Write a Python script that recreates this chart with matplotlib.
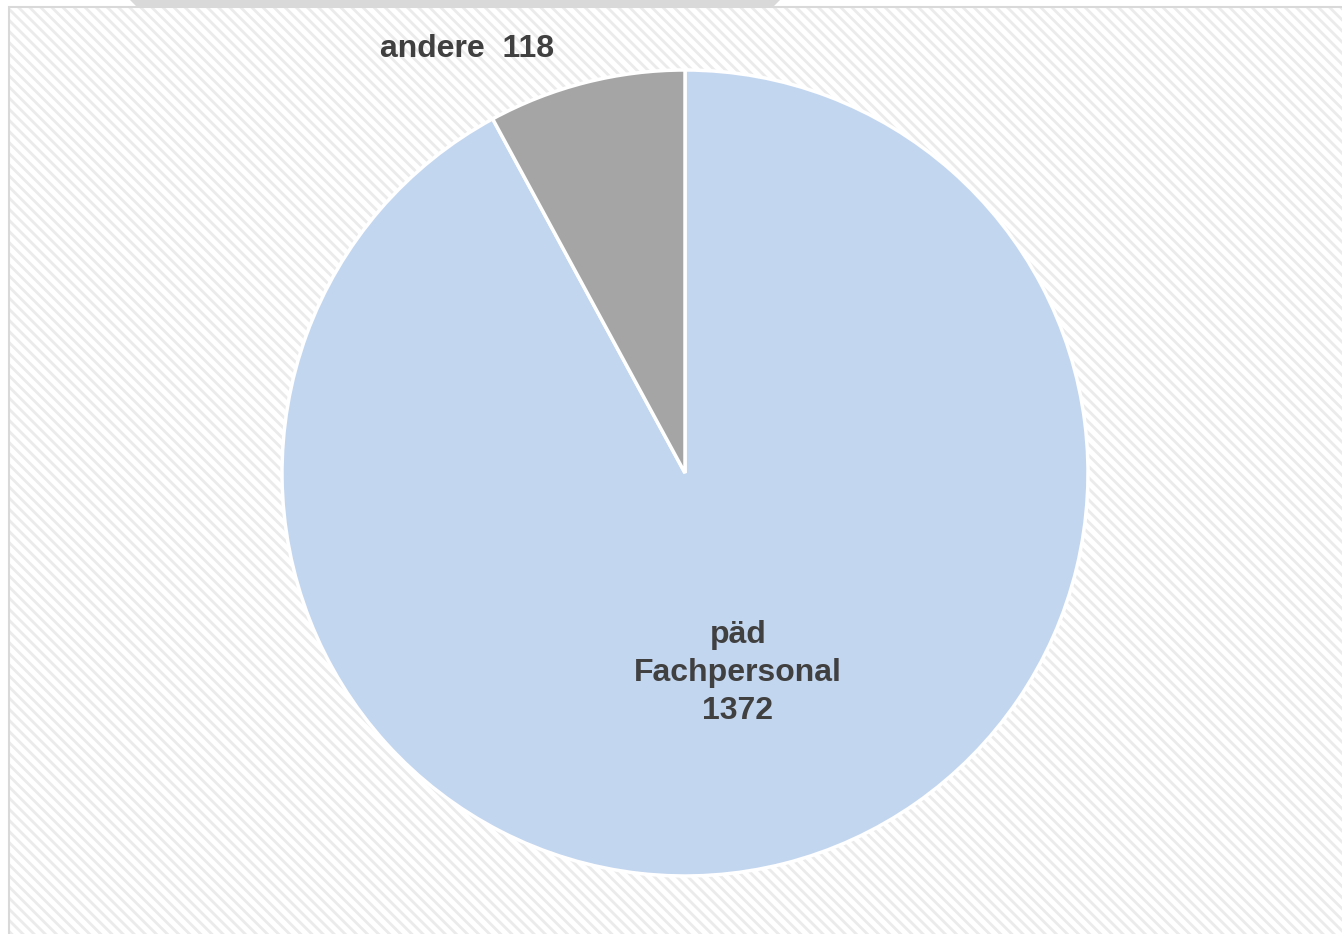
import matplotlib
matplotlib.use("Agg")
import matplotlib.pyplot as plt
from matplotlib.patches import Rectangle, Polygon

plt.rcParams['font.family'] = ['Liberation Sans', 'DejaVu Sans']
plt.rcParams['hatch.linewidth'] = 2.0

categories = ["päd\nFachpersonal", "andere"]
values = [1372, 118]
colors = ["#c3d6ef", "#a5a5a5"]

W, H = 1342, 934
fig = plt.figure(figsize=(W / 100, H / 100), dpi=100)
ax = fig.add_axes([0, 0, 1, 1])
ax.set_xlim(0, W)
ax.set_ylim(0, H)
ax.axis("off")

# top tab
ax.add_patch(Polygon([(130, H), (780, H), (774, H - 6), (136, H - 6)],
                     closed=True, facecolor="#d9d9d9", edgecolor="none", zorder=0))
# chart area with hatched background
ax.add_patch(Rectangle((8, -2), W, H - 6 + 2, facecolor="white",
                       edgecolor="#ebebeb", hatch="\\\\\\", linewidth=0, zorder=0))
ax.add_patch(Rectangle((8.5, -2), W, H - 6.5 + 2, facecolor="none",
                       edgecolor="#d9d9d9", linewidth=1.5, zorder=1))

cx, cy, r = 685, H - 473, 403
wedges, _ = ax.pie(values, colors=colors, startangle=90, counterclock=False,
                   center=(cx, cy), radius=r, frame=True,
                   wedgeprops=dict(edgecolor="white", linewidth=2.5))
for w in wedges:
    w.set_zorder(2)
ax.set_xlim(0, W)
ax.set_ylim(0, H)
ax.set_aspect("auto")
ax.axis("off")

txt = dict(color="#404040", fontsize=23, fontweight="bold", ha="center",
           va="center", zorder=3)
ax.text(738, H - 673, f"{categories[0]}\n{values[0]}", linespacing=1.33, **txt)
ax.text(467, H - 49, f"{categories[1]}  {values[1]}", **txt)

fig.savefig("out.png", dpi=100)
